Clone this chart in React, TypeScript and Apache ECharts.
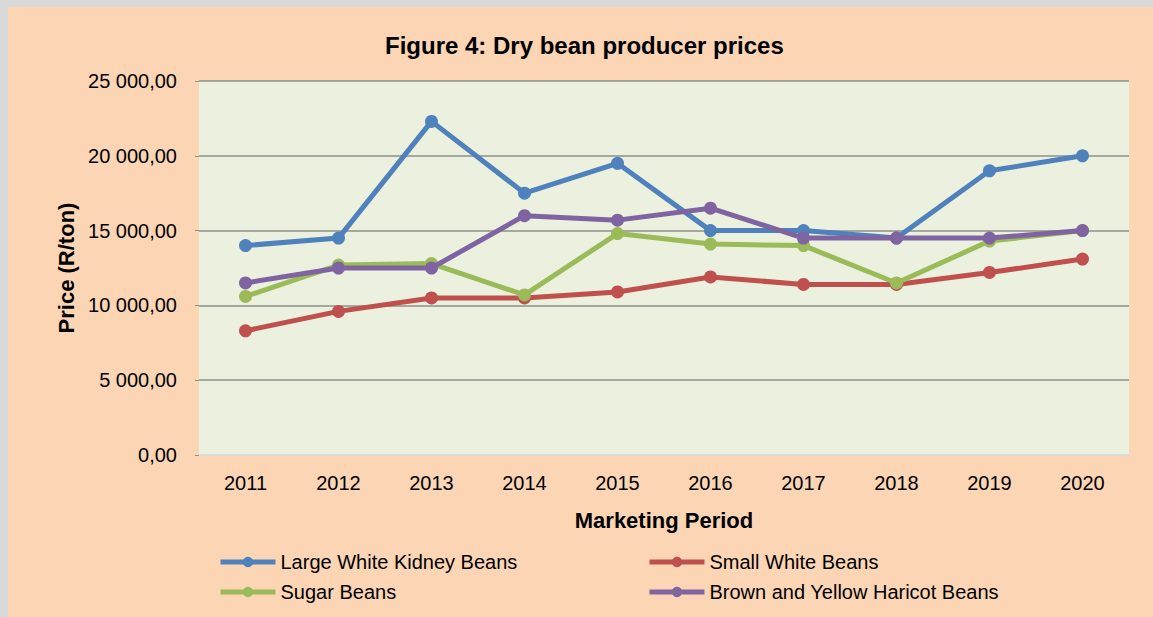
import React, { useEffect, useRef } from "react";
import * as echarts from "echarts";

const years = ["2011", "2012", "2013", "2014", "2015", "2016", "2017", "2018", "2019", "2020"];
const largeWhiteKidney = [14000, 14500, 22300, 17500, 19500, 15000, 15000, 14500, 19000, 20000];
const smallWhite = [8300, 9600, 10500, 10500, 10900, 11900, 11400, 11400, 12200, 13100];
const sugar = [10600, 12700, 12800, 10700, 14800, 14100, 14000, 11500, 14300, 15000];
const brownYellowHaricot = [11500, 12500, 12500, 16000, 15700, 16500, 14500, 14500, 14500, 15000];
const seriesNames = [
  "Large White Kidney Beans",
  "Small White Beans",
  "Sugar Beans",
  "Brown and Yellow Haricot Beans",
];
const colors = ["#4F81BD", "#C0504D", "#9BBB59", "#8064A2"];

const FONT = "'Liberation Sans', Arial, sans-serif";

function fmt(v: number): string {
  const fixed = v.toFixed(2);
  const [intPart, dec] = fixed.split(".");
  const withSpaces = intPart.replace(/\B(?=(\d{3})+(?!\d))/g, " ");
  return withSpaces + "," + dec;
}

export default function App() {
  const ref = useRef<HTMLDivElement>(null);
  useEffect(() => {
    if (!ref.current) return;
    const chart = echarts.init(ref.current, null, { renderer: "svg" });
    const data = [largeWhiteKidney, smallWhite, sugar, brownYellowHaricot];
    const legendCommon = {
      orient: "vertical",
      top: 545,
      padding: 0,
      itemGap: 10,
      itemWidth: 55,
      itemHeight: 13,
      lineStyle: { width: 5 },
      textStyle: { fontFamily: FONT, fontSize: 20, color: "#000" },
    };
    chart.setOption({
      animation: false,
      backgroundColor: "#FCD5B5",
      textStyle: { fontFamily: FONT },
      title: {
        text: "Figure 4: Dry bean producer prices",
        left: 377,
        top: 26,
        padding: 0,
        textStyle: { fontFamily: FONT, fontSize: 24, fontWeight: "bold", color: "#000" },
      },
      legend: [
        { ...legendCommon, data: [seriesNames[0], seriesNames[2]], left: 210 },
        { ...legendCommon, data: [seriesNames[1], seriesNames[3]], left: 639 },
      ],
      grid: {
        left: 191,
        top: 74,
        right: 24,
        bottom: 162,
        show: true,
        backgroundColor: "#EBF0DF",
        borderWidth: 0,
      },
      xAxis: {
        type: "category",
        data: years,
        boundaryGap: true,
        name: "Marketing Period",
        nameLocation: "middle",
        nameGap: 54,
        nameTextStyle: { fontFamily: FONT, fontSize: 22, fontWeight: "bold", color: "#000" },
        axisLine: { show: true, lineStyle: { color: "#D9D9D9", width: 2 } },
        axisTick: { show: false },
        axisLabel: { fontFamily: FONT, fontSize: 20, color: "#000", margin: 18 },
        splitLine: { show: false },
      },
      yAxis: {
        type: "value",
        min: 0,
        max: 25000,
        interval: 5000,
        name: "Price (R/ton)",
        nameLocation: "middle",
        nameRotate: 90,
        nameGap: 87,
        nameTextStyle: { fontFamily: FONT, fontSize: 22, fontWeight: "bold", color: "#000" },
        axisLine: { show: false },
        axisTick: { show: true, length: 4, lineStyle: { color: "#8E9187" } },
        axisLabel: { fontFamily: FONT, fontSize: 20, color: "#000", margin: 22, formatter: (v: number) => fmt(v) },
        splitLine: { show: true, lineStyle: { color: "#8E9187", width: 1.5 } },
      },
      series: seriesNames.map((name, i) => ({
        name,
        type: "line",
        data: data[i],
        symbol: "circle",
        symbolSize: 13,
        itemStyle: { color: colors[i] },
        lineStyle: { color: colors[i], width: 5 },
        z: 2 + i,
      })),
    });
    return () => chart.dispose();
  }, []);
  return (
    <div style={{ position: "fixed", left: 0, top: 0, width: 1153, height: 617, background: "#D9D9D9" }}>
      <div ref={ref} style={{ position: "absolute", left: 8, top: 7, width: 1145, height: 610 }} />
    </div>
  );
}
